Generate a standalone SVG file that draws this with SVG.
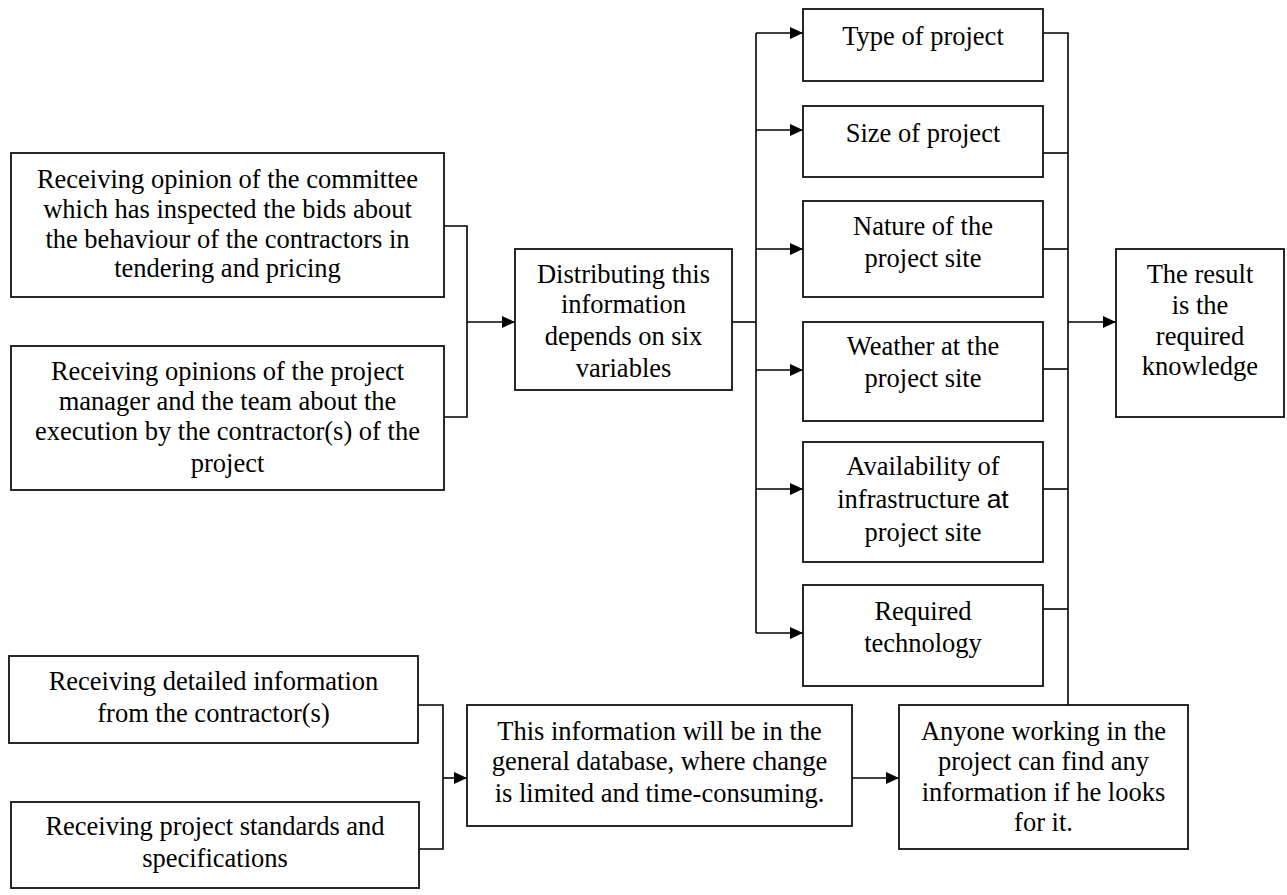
<svg xmlns="http://www.w3.org/2000/svg" width="1287" height="895" viewBox="0 0 1287 895">
<defs>
<marker id="arr" markerUnits="userSpaceOnUse" markerWidth="14" markerHeight="12" refX="13" refY="6" orient="auto">
<path d="M0,0 L13,6 L0,12 Z" fill="#000"/>
</marker>
<style>
.box{fill:#fff;stroke:#111;stroke-width:1.8}
.t{font-family:"Liberation Serif","Times New Roman",serif;font-size:26.5px;fill:#000;text-anchor:middle}
.c{fill:none;stroke:#000;stroke-width:1.6}
.a{fill:none;stroke:#000;stroke-width:1.6;marker-end:url(#arr)}
</style>
</defs>
<rect width="1287" height="895" fill="#fff"/>
<g id="connectors">
<path class="c" d="M444,226 H467 V417 H444"/>
<path class="a" d="M467,322 H515"/>
<path class="c" d="M732,322 H756"/>
<path class="c" d="M756,33 V633"/>
<path class="a" d="M756,33 H803"/>
<path class="a" d="M756,130 H803"/>
<path class="a" d="M756,249 H803"/>
<path class="a" d="M756,370 H803"/>
<path class="a" d="M756,489 H803"/>
<path class="a" d="M756,633 H803"/>
<path class="c" d="M1043,33 H1068 V705"/>
<path class="c" d="M1043,153 H1068"/>
<path class="c" d="M1043,249 H1068"/>
<path class="c" d="M1043,369 H1068"/>
<path class="c" d="M1043,489 H1068"/>
<path class="c" d="M1043,609 H1068"/>
<path class="a" d="M1068,322 H1116"/>
<path class="c" d="M418,705 H443 V849 H419"/>
<path class="a" d="M443,778 H467"/>
<path class="a" d="M852,778 H899"/>
</g>
<g id="n1">
<rect class="box" x="11" y="153" width="433" height="144"/>
<text class="t" x="227.5" y="188">Receiving opinion of the committee</text>
<text class="t" x="227.5" y="218">which has inspected the bids about</text>
<text class="t" x="227.5" y="248">the behaviour of the contractors in</text>
<text class="t" x="227.5" y="277">tendering and pricing</text>
</g>
<g id="n2">
<rect class="box" x="11" y="346" width="433" height="144"/>
<text class="t" x="227.5" y="380">Receiving opinions of the project</text>
<text class="t" x="227.5" y="410">manager and the team about the</text>
<text class="t" x="227.5" y="440">execution by the contractor(s) of the</text>
<text class="t" x="227.5" y="472">project</text>
</g>
<g id="n3">
<rect class="box" x="515" y="249" width="217" height="141"/>
<text class="t" x="623.5" y="283">Distributing this</text>
<text class="t" x="623.5" y="313">information</text>
<text class="t" x="623.5" y="345">depends on six</text>
<text class="t" x="623.5" y="377">variables</text>
</g>
<g id="n4">
<rect class="box" x="803" y="9" width="240" height="72"/>
<text class="t" x="923" y="45">Type of project</text>
</g>
<g id="n5">
<rect class="box" x="803" y="106" width="240" height="71"/>
<text class="t" x="923" y="142">Size of project</text>
</g>
<g id="n6">
<rect class="box" x="803" y="201" width="240" height="96"/>
<text class="t" x="923" y="235">Nature of the</text>
<text class="t" x="923" y="267">project site</text>
</g>
<g id="n7">
<rect class="box" x="803" y="322" width="240" height="99"/>
<text class="t" x="923" y="355">Weather at the</text>
<text class="t" x="923" y="387">project site</text>
</g>
<g id="n8">
<rect class="box" x="803" y="442" width="240" height="120"/>
<text class="t" x="923" y="475">Availability of</text>
<text class="t" x="923" y="508">infrastructure <tspan font-family="Liberation Sans, Arial, sans-serif">at</tspan></text>
<text class="t" x="923" y="541">project site</text>
</g>
<g id="n9">
<rect class="box" x="803" y="585" width="240" height="101"/>
<text class="t" x="923" y="620">Required</text>
<text class="t" x="923" y="652">technology</text>
</g>
<g id="n10">
<rect class="box" x="1116" y="249" width="168" height="168"/>
<text class="t" x="1200" y="283">The result</text>
<text class="t" x="1200" y="314">is the</text>
<text class="t" x="1200" y="345">required</text>
<text class="t" x="1200" y="375">knowledge</text>
</g>
<g id="n11">
<rect class="box" x="9" y="656" width="409" height="87"/>
<text class="t" x="213.5" y="690">Receiving detailed information</text>
<text class="t" x="213.5" y="722">from the contractor(s)</text>
</g>
<g id="n12">
<rect class="box" x="11" y="802" width="408" height="86"/>
<text class="t" x="215" y="835">Receiving project standards and</text>
<text class="t" x="215" y="867">specifications</text>
</g>
<g id="n13">
<rect class="box" x="467" y="705" width="385" height="121"/>
<text class="t" x="659.5" y="740">This information will be in the</text>
<text class="t" x="659.5" y="770">general database, where change</text>
<text class="t" x="659.5" y="802">is limited and time-consuming.</text>
</g>
<g id="n14">
<rect class="box" x="899" y="705" width="289" height="144"/>
<text class="t" x="1043.5" y="740">Anyone working in the</text>
<text class="t" x="1043.5" y="770">project can find any</text>
<text class="t" x="1043.5" y="801">information if he looks</text>
<text class="t" x="1043.5" y="831">for it.</text>
</g>
</svg>
